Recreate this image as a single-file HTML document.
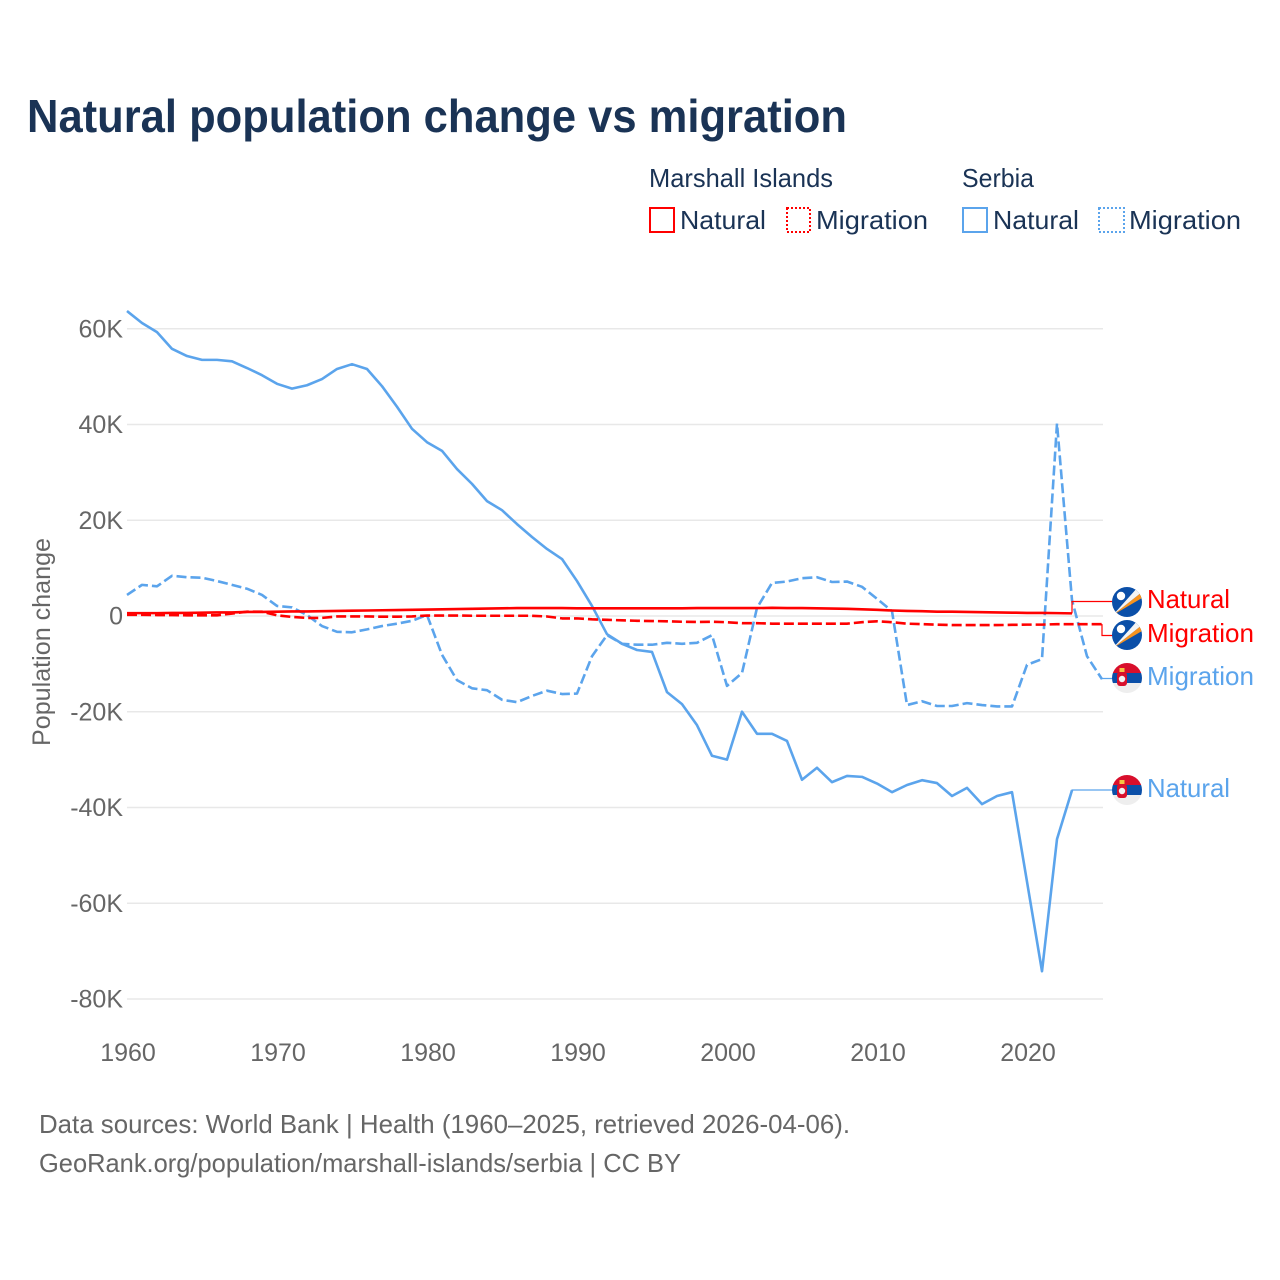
<!DOCTYPE html>
<html>
<head>
<meta charset="utf-8">
<title>Natural population change vs migration</title>
<style>
html,body{margin:0;padding:0;background:#fff;width:1280px;height:1280px;overflow:hidden}
svg{display:block;font-family:"Liberation Sans",sans-serif}
</style>
</head>
<body>
<svg id="chart" xmlns="http://www.w3.org/2000/svg" width="1280" height="1280" viewBox="0 0 1280 1280">
  <rect width="1280" height="1280" fill="#fff"/>
  <text x="27" y="132" font-size="46" font-weight="700" fill="#1a3355" textLength="820" lengthAdjust="spacingAndGlyphs">Natural population change vs migration</text>

  <text x="649" y="187" font-size="26" fill="#1a3355" textLength="184" lengthAdjust="spacingAndGlyphs">Marshall Islands</text>
  <text x="962" y="187" font-size="26" fill="#1a3355" textLength="72" lengthAdjust="spacingAndGlyphs">Serbia</text>

  <rect x="650" y="208" width="24" height="24" fill="none" stroke="#ff0000" stroke-width="2"/>
  <text x="680" y="229" font-size="26" fill="#1a3355" textLength="86" lengthAdjust="spacingAndGlyphs">Natural</text>
  <rect x="787" y="208" width="23" height="24" fill="none" stroke="#ff0000" stroke-width="2" stroke-dasharray="2 2"/>
  <text x="816" y="229" font-size="26" fill="#1a3355" textLength="112" lengthAdjust="spacingAndGlyphs">Migration</text>
  <rect x="963" y="208" width="24" height="24" fill="none" stroke="#5ba4ec" stroke-width="2"/>
  <text x="993" y="229" font-size="26" fill="#1a3355" textLength="86" lengthAdjust="spacingAndGlyphs">Natural</text>
  <rect x="1099" y="208" width="25" height="24" fill="none" stroke="#5ba4ec" stroke-width="2" stroke-dasharray="2 2"/>
  <text x="1129" y="229" font-size="26" fill="#1a3355" textLength="112" lengthAdjust="spacingAndGlyphs">Migration</text>

  <g id="grid"></g>
  <g id="yticks"></g>
  <g id="xticks"></g>
  <text transform="translate(50,642) rotate(-90)" text-anchor="middle" font-size="25" fill="#666" textLength="208" lengthAdjust="spacingAndGlyphs">Population change</text>
  <g id="series"></g>
  <g id="connectors"></g>

  <defs>
    <clipPath id="flagClip"><circle cx="0" cy="0" r="15"/></clipPath>
    <g id="flag-mh" clip-path="url(#flagClip)">
      <rect x="-15" y="-15" width="30" height="30" fill="#0b4fa8"/>
      <polygon points="-14,13 15,-10 15,-4" fill="#f7931e"/>
      <polygon points="-14,13 11,-15 15,-10" fill="#f4f4f4"/>
      <circle cx="-6" cy="-6" r="4.2" fill="#fff"/>
    </g>
    <g id="flag-rs" clip-path="url(#flagClip)">
      <rect x="-15" y="-15" width="30" height="10" fill="#d80f2c"/>
      <rect x="-15" y="-5" width="30" height="10" fill="#0b4fa8"/>
      <rect x="-15" y="5" width="30" height="10" fill="#eeeeee"/>
      <rect x="-10" y="-6" width="10" height="14" rx="3" fill="#d80f2c"/>
      <rect x="-7.5" y="-10" width="5" height="4" fill="#f6c343"/>
      <circle cx="-5" cy="1" r="3.2" fill="#f4f4f4"/>
    </g>
  </defs>

  <g><use href="#flag-mh" x="1127" y="602"/></g>
  <g><use href="#flag-mh" x="1127" y="635"/></g>
  <g><use href="#flag-rs" x="1127" y="678"/></g>
  <g><use href="#flag-rs" x="1127" y="790"/></g>

  <text x="1147" y="608" font-size="26" fill="#ff0000" textLength="83" lengthAdjust="spacingAndGlyphs">Natural</text>
  <text x="1147" y="642" font-size="26" fill="#ff0000" textLength="107" lengthAdjust="spacingAndGlyphs">Migration</text>
  <text x="1147" y="685" font-size="26" fill="#5ba4ec" textLength="107" lengthAdjust="spacingAndGlyphs">Migration</text>
  <text x="1147" y="797" font-size="26" fill="#5ba4ec" textLength="83" lengthAdjust="spacingAndGlyphs">Natural</text>

  <text x="39" y="1133" font-size="26" fill="#666" textLength="811" lengthAdjust="spacingAndGlyphs">Data sources: World Bank | Health (1960–2025, retrieved 2026-04-06).</text>
  <text x="39" y="1172" font-size="26" fill="#666" textLength="642" lengthAdjust="spacingAndGlyphs">GeoRank.org/population/marshall-islands/serbia | CC BY</text>
</svg>
<script>
const startYear = 1960;
const xTickYears = [1960, 1970, 1980, 1990, 2000, 2010, 2020];
const yTickValues = [60, 40, 20, 0, -20, -40, -60, -80];
const yTickLabels = ["60K", "40K", "20K", "0", "-20K", "-40K", "-60K", "-80K"];

/* values in thousands, one per year from 1960 */
const serbiaNatural = [63.7,61.2,59.3,55.8,54.3,53.5,53.5,53.2,51.8,50.3,48.5,47.5,48.2,49.5,51.6,52.6,51.6,48,43.7,39.1,36.3,34.5,30.7,27.6,24,22.1,19.2,16.5,14,11.9,7.3,2.1,-3.8,-5.8,-7.1,-7.5,-15.9,-18.4,-22.8,-29.2,-30,-20,-24.6,-24.6,-26.1,-34.2,-31.7,-34.7,-33.4,-33.6,-35,-36.8,-35.3,-34.3,-34.9,-37.6,-35.9,-39.3,-37.6,-36.8,-55.5,-74.2,-46.6,-36.4];
const serbiaMigration = [4.4,6.5,6.2,8.4,8.1,8,7.3,6.5,5.7,4.4,2.1,1.8,0.2,-2.1,-3.3,-3.4,-2.8,-2.1,-1.6,-1,0.2,-8.1,-13.4,-15.1,-15.5,-17.5,-18,-16.7,-15.6,-16.3,-16.2,-8.4,-4,-5.8,-6,-6,-5.6,-5.8,-5.6,-4,-14.6,-11.9,1.7,6.9,7.2,7.9,8.1,7.1,7.2,6.1,3.6,1,-18.6,-17.8,-18.8,-18.8,-18.2,-18.6,-18.9,-18.9,-10.2,-9,40.2,3.3,-8.4,-13.2];
const marshallNatural = [0.6,0.6,0.6,0.65,0.65,0.7,0.75,0.75,0.85,0.85,0.9,0.95,0.95,1,1.05,1.1,1.15,1.2,1.25,1.3,1.35,1.4,1.45,1.5,1.55,1.6,1.65,1.65,1.65,1.65,1.6,1.6,1.6,1.6,1.6,1.6,1.6,1.6,1.65,1.65,1.65,1.65,1.65,1.7,1.65,1.65,1.6,1.55,1.5,1.4,1.3,1.15,1.05,1,0.9,0.9,0.85,0.8,0.75,0.7,0.65,0.65,0.6,0.55];
const marshallMigration = [0.25,0.25,0.2,0.2,0.15,0.15,0.15,0.5,0.9,0.9,0.15,-0.2,-0.4,-0.4,-0.1,-0.1,-0.1,-0.15,-0.15,-0.1,0.1,0.1,0.1,0.05,0.05,0.05,0.05,0.05,-0.1,-0.5,-0.5,-0.7,-0.8,-0.9,-1,-1.05,-1.1,-1.2,-1.25,-1.2,-1.3,-1.5,-1.5,-1.6,-1.6,-1.6,-1.6,-1.6,-1.6,-1.3,-1.1,-1.3,-1.6,-1.7,-1.8,-1.9,-1.9,-1.9,-1.9,-1.85,-1.8,-1.8,-1.7,-1.7,-1.7,-1.7];

const NS = "http://www.w3.org/2000/svg";
const xScale = function (year) { return 127 + (year - startYear) * 15; };
const yScale = function (v) { return 616 - v * 4.7875; };

function svgEl(tag, parent, attrs) {
  const el = document.createElementNS(NS, tag);
  for (const k in attrs) el.setAttribute(k, attrs[k]);
  parent.appendChild(el);
  return el;
}

const gridG = document.getElementById("grid");
const yG = document.getElementById("yticks");
yTickValues.forEach(function (v, i) {
  const line = svgEl("line", gridG, { x1: 127, x2: 1103, y1: yScale(v), y2: yScale(v), stroke: "#e8e8e8", "stroke-width": 1.5 });
  
  
  const t = svgEl("text", yG, { x: 123, y: yScale(v) + 8.5, "text-anchor": "end", "font-size": 25, fill: "#666" });
  t.textContent = yTickLabels[i];
  
  
});

const xG = document.getElementById("xticks");
xTickYears.forEach(function (year) {
  const t = svgEl("text", xG, { x: xScale(year) + 1, y: 1061, "text-anchor": "middle", "font-size": 25, fill: "#666" });
  t.textContent = String(year);
  
  
});

function pathFor(values) {
  return values.map(function (v, i) {
    return (i ? "L" : "M") + xScale(startYear + i).toFixed(2) + " " + yScale(v).toFixed(2);
  }).join("");
}

const seriesG = document.getElementById("series");

const lineSerbiaNatural = svgEl("path", seriesG, { d: pathFor(serbiaNatural), fill: "none", stroke: "#5ba4ec", "stroke-width": 2.6, "stroke-linejoin": "round" });



const lineSerbiaMigration = svgEl("path", seriesG, { d: pathFor(serbiaMigration), fill: "none", stroke: "#5ba4ec", "stroke-width": 2.6, "stroke-dasharray": "10 4", "stroke-linejoin": "round" });



const lineMarshallNatural = svgEl("path", seriesG, { d: pathFor(marshallNatural), fill: "none", stroke: "#ff0000", "stroke-width": 2.6, "stroke-linejoin": "round" });



const lineMarshallMigration = svgEl("path", seriesG, { d: pathFor(marshallMigration), fill: "none", stroke: "#ff0000", "stroke-width": 2.6, "stroke-dasharray": "10 4", "stroke-linejoin": "round" });



const connG = document.getElementById("connectors");
function connector(values, labelY, color) {
  const i = values.length - 1;
  const x = xScale(startYear + i);
  const y = yScale(values[i]);
  const d = "M" + x + " " + y + "V" + labelY + "H1113";
  return svgEl("path", connG, { d: d, fill: "none", stroke: color, "stroke-width": 1.2 });
}
const connA = connector(marshallNatural, 601.5, "#ff0000");


const connB = connector(marshallMigration, 635.5, "#ff0000");


const connC = connector(serbiaMigration, 678.5, "#5ba4ec");


const connD = connector(serbiaNatural, 790, "#5ba4ec");


</script>
</body>
</html>
